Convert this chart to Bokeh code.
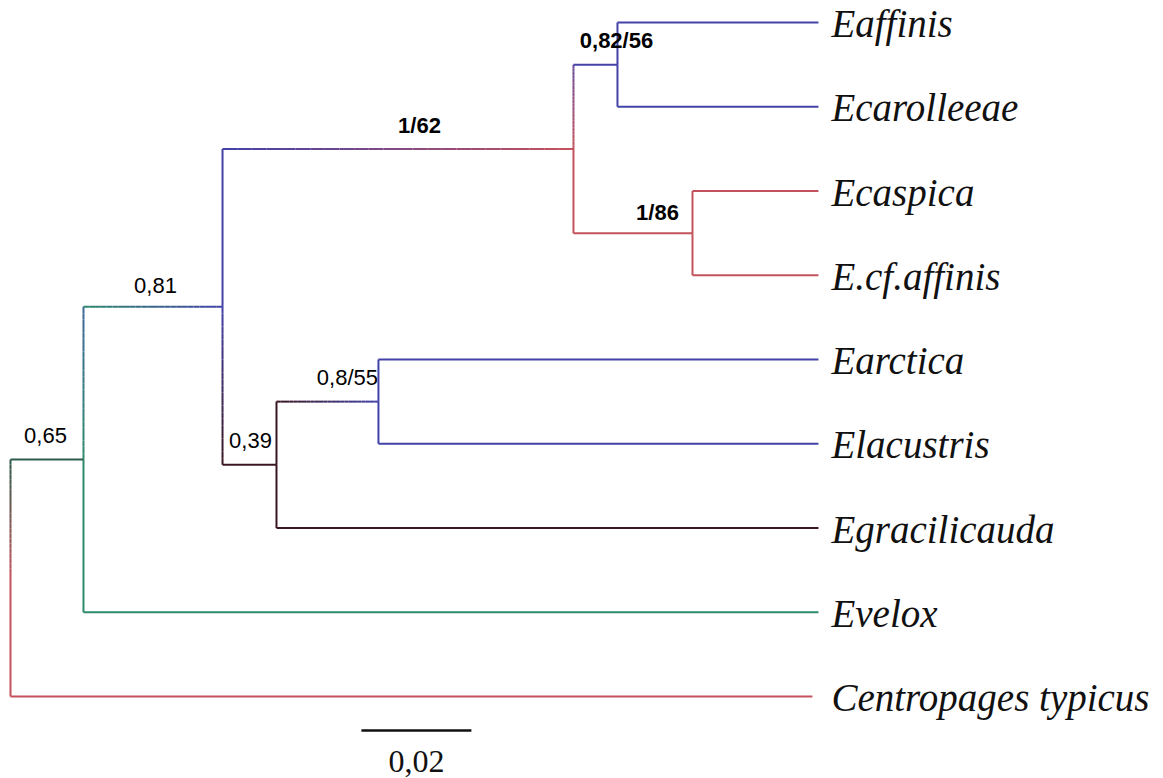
from bokeh.plotting import figure
from bokeh.models import Range1d, ColumnDataSource
from bokeh.core.properties import value
from bokeh.embed import file_html
from bokeh.resources import INLINE

# ---------------- data ----------------
leaves = ["Eaffinis", "Ecarolleeae", "Ecaspica", "E.cf.affinis", "Earctica",
          "Elacustris", "Egracilicauda", "Evelox", "Centropages typicus"]
leaf_depth = [0.1469, 0.1469, 0.1469, 0.1469, 0.1469, 0.1469, 0.1469, 0.1469, 0.1458]

node_names = ["n082", "n086", "n062", "n055", "n039", "n081", "n065", "root"]
node_depth = [0.11036, 0.12400, 0.10236, 0.06690, 0.04836, 0.03855, 0.01327, 0.0]
node_children = [["Eaffinis", "Ecarolleeae"], ["Ecaspica", "E.cf.affinis"],
                 ["n082", "n086"], ["Earctica", "Elacustris"],
                 ["n055", "Egracilicauda"], ["n062", "n039"],
                 ["n081", "Evelox"], ["n065", "Centropages typicus"]]
support = ["0,82/56", "1/86", "1/62", "0,8/55", "0,39", "0,81", "0,65", ""]

scale_bar_len = 0.02
scale_bar_label = "0,02"

# ---------------- styles ----------------
BLUE = "#4242a8"
RED = "#c4525c"
MAROON = "#3a1620"
GREEN = "#2e8a6c"
DKGREEN = "#2c5c4a"
TEAL = "#40689a"
PURPLE = "#6a4a9a"

hcol = {
    "Eaffinis": (BLUE, BLUE), "Ecarolleeae": (BLUE, BLUE),
    "Ecaspica": (RED, RED), "E.cf.affinis": (RED, RED),
    "Earctica": (BLUE, BLUE), "Elacustris": (BLUE, BLUE),
    "Egracilicauda": (MAROON, MAROON), "Evelox": (GREEN, GREEN),
    "Centropages typicus": (RED, RED),
    "n082": (BLUE, BLUE), "n086": (RED, RED), "n062": (BLUE, RED),
    "n055": (MAROON, BLUE), "n039": (MAROON, MAROON),
    "n081": (GREEN, BLUE), "n065": (DKGREEN, DKGREEN),
}
vcol = {
    "n082": (BLUE, BLUE, BLUE), "n086": (RED, RED, RED),
    "n062": (PURPLE, RED, RED), "n055": (BLUE, BLUE, BLUE),
    "n039": (MAROON, MAROON, MAROON), "n081": (BLUE, BLUE, MAROON),
    "n065": (TEAL, GREEN, GREEN), "root": (DKGREEN, RED, RED),
}
bold_labels = {"0,82/56", "1/86", "1/62"}

ROW_PX = 84.25
X_PX = 5500.0
W, H = 1163, 778
X0_PX, Y0_PX = 10, 22

# ---------------- layout computation ----------------
xpos, ypos = {}, {}
for i, (n, d) in enumerate(zip(leaves, leaf_depth)):
    xpos[n] = d
    ypos[n] = float(i)
for n, d, ch in zip(node_names, node_depth, node_children):
    xpos[n] = d
    ypos[n] = sum(ypos[c] for c in ch) / len(ch)


def hexrgb(c):
    c = c.lstrip("#")
    return tuple(int(c[i:i + 2], 16) for i in (0, 2, 4))


def mix(c0, c1, t):
    a, b = hexrgb(c0), hexrgb(c1)
    return "#%02x%02x%02x" % tuple(int(round(a[k] + (b[k] - a[k]) * t)) for k in range(3))


segs = dict(x0=[], y0=[], x1=[], y1=[], c=[])


def add(x0, y0, x1, y1, c0, c1, n=24):
    if c0 == c1:
        n = 1
    for k in range(n):
        t0, t1 = k / n, (k + 1) / n
        segs["x0"].append(x0 + (x1 - x0) * t0)
        segs["y0"].append(y0 + (y1 - y0) * t0)
        segs["x1"].append(x0 + (x1 - x0) * t1)
        segs["y1"].append(y0 + (y1 - y0) * t1)
        segs["c"].append(mix(c0, c1, (t0 + t1) / 2))


for n, ch in zip(node_names, node_children):
    px, py = xpos[n], ypos[n]
    ys = [ypos[c] for c in ch]
    top, bot = min(ys), max(ys)
    ct, cm, cb = vcol[n]
    add(px, top, px, py, ct, cm)
    add(px, py, px, bot, cm, cb)
    for c in ch:
        c0, c1 = hcol[c]
        add(px, ypos[c], xpos[c], ypos[c], c0, c1)

# ---------------- figure ----------------
p = figure(width=W, height=H, output_backend="svg", toolbar_location=None,
           min_border=0, x_axis_type=None, y_axis_type=None)
p.x_range = Range1d(-X0_PX / X_PX, (W - X0_PX) / X_PX)
p.y_range = Range1d((H - Y0_PX) / ROW_PX, -Y0_PX / ROW_PX)
p.outline_line_color = None
p.xgrid.visible = False
p.ygrid.visible = False
p.background_fill_color = "white"
p.border_fill_color = "white"

src = ColumnDataSource(segs)
p.segment("x0", "y0", "x1", "y1", source=src, line_color="c", line_width=2)

# leaf labels
lab_x = max(leaf_depth) + 13 / X_PX
lab = ColumnDataSource(dict(x=[lab_x] * len(leaves),
                            y=[ypos[n] + 1 / ROW_PX for n in leaves],
                            t=leaves))
p.text("x", "y", text="t", source=lab, text_font=value("Liberation Serif"),
       text_font_style="italic", text_font_size="39px", text_color="#111111",
       text_baseline="middle", text_align="left")

# support labels (offsets in pixels from node)
offs = {"n082": (-1, -24), "n086": (-35, -21), "n062": (-154, -23),
        "n055": (-31, -24), "n039": (-26, -24), "n081": (-67, -21),
        "n065": (-38, -24), "root": (0, 0)}
for bold in (True, False):
    sx, sy, st = [], [], []
    for n, s in zip(node_names, support):
        if not s or ((s in bold_labels) != bold):
            continue
        dx, dy = offs[n]
        sx.append(xpos[n] + dx / X_PX)
        sy.append(ypos[n] + dy / ROW_PX)
        st.append(s)
    p.text(sx, sy, text=st, text_font=value("Liberation Sans"),
           text_font_style="bold" if bold else "normal",
           text_font_size="22px", text_color="#000000", text_align="center",
           text_baseline="middle")

# scale bar
sb_x0 = 0.0638
sb_y = ypos["Centropages typicus"] + 34 / ROW_PX
p.segment([sb_x0], [sb_y], [sb_x0 + scale_bar_len], [sb_y], line_color="#111111", line_width=2.5)
p.text([sb_x0 + scale_bar_len / 2], [sb_y + 31 / ROW_PX], text=[scale_bar_label],
       text_font=value("Liberation Serif"), text_font_size="32px", text_color="#111111",
       text_align="center", text_baseline="middle")

open("out.html", "w").write(file_html(p, INLINE))
